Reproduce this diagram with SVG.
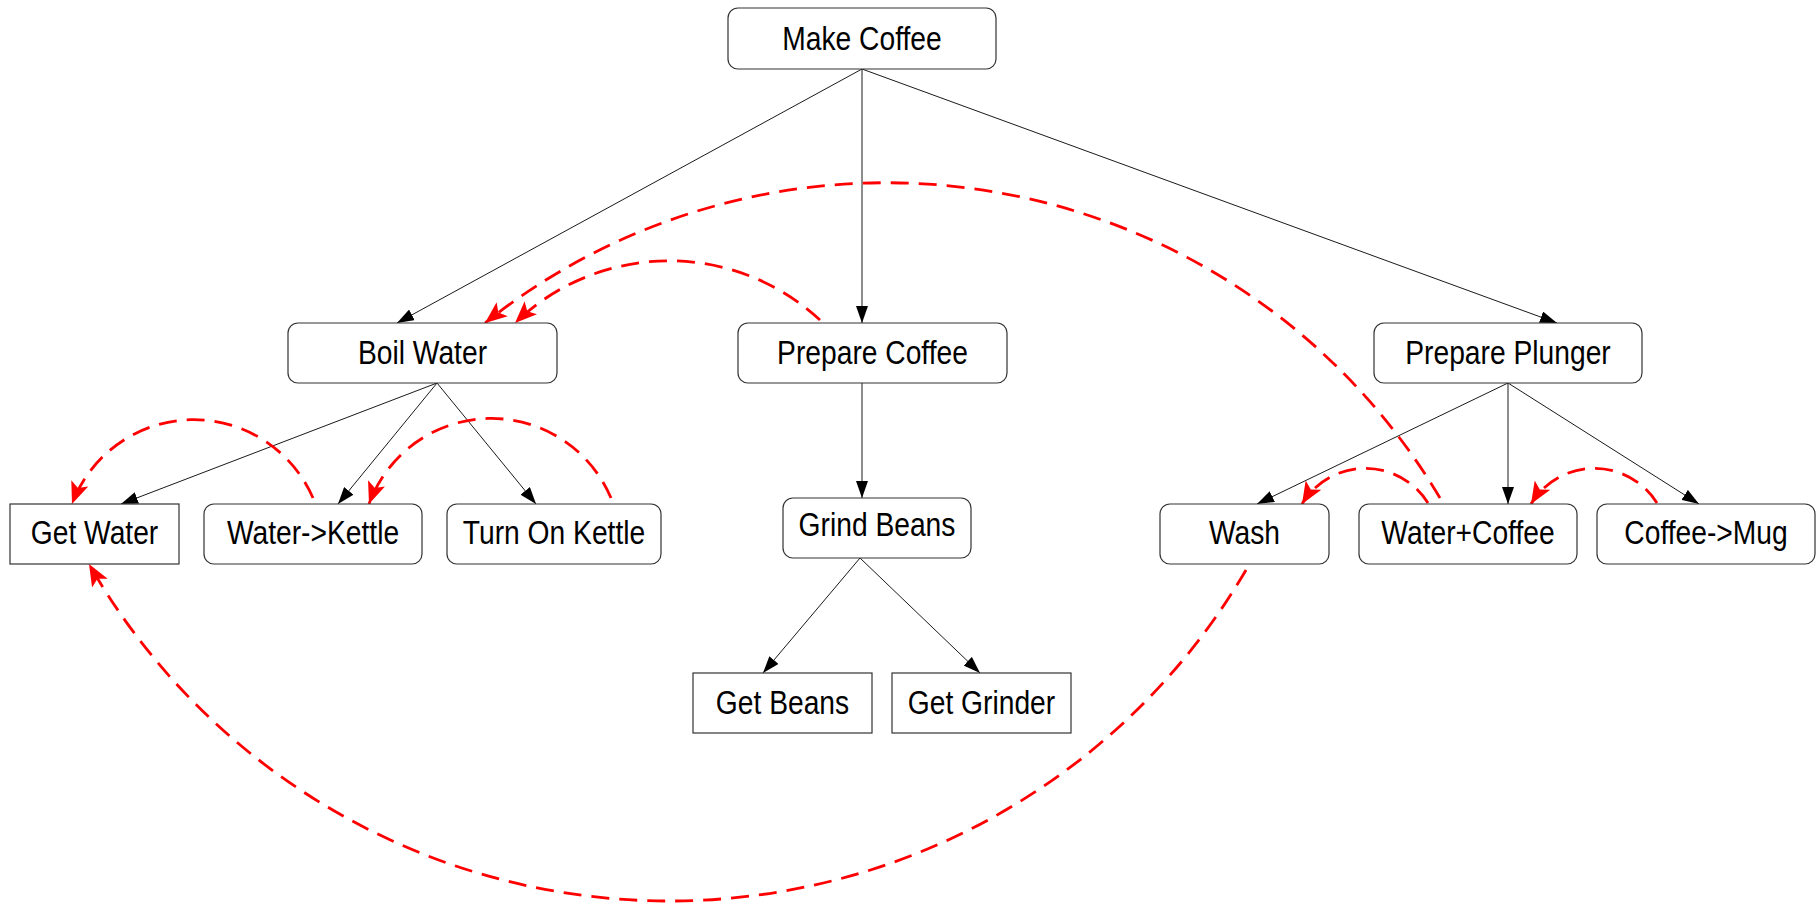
<svg xmlns="http://www.w3.org/2000/svg" width="1820" height="908" viewBox="0 0 1820 908">
  <style>
    .box { fill: #ffffff; stroke: #333333; stroke-width: 1.2; }
    .lbl { font-family: "Liberation Sans", Arial, sans-serif; font-size: 34px; fill: #000000; text-anchor: middle; }
    .edge { fill: none; stroke: #1a1a1a; stroke-width: 1; marker-end: url(#arrowBlack); }
    .dep { fill: none; stroke: #ff0000; stroke-width: 2.8; stroke-dasharray: 18 10; marker-end: url(#arrowRed); }
  </style>
  <defs>
    <marker id="arrowBlack" viewBox="0 0 17 12" refX="17" refY="6" markerWidth="17" markerHeight="12" markerUnits="userSpaceOnUse" orient="auto">
      <path d="M0,0 L17,6 L0,12 z" fill="#000000"/>
    </marker>
    <marker id="arrowRed" viewBox="0 0 22 18" refX="22" refY="9" markerWidth="22" markerHeight="18" markerUnits="userSpaceOnUse" orient="auto">
      <path d="M0,0 L22,9 L0,18 L5,9 z" fill="#ff0000"/>
    </marker>
  </defs>

  <rect width="1820" height="908" fill="#ffffff"/>

  <!-- hierarchy and dependency connectors -->
  <g id="connectors">
    <!-- tree edges -->
    <path class="edge" d="M862,69 L397,323"/>
    <path class="edge" d="M862,69 L862,323"/>
    <path class="edge" d="M862,69 L1557,323"/>
    <path class="edge" d="M437,383 L121,504"/>
    <path class="edge" d="M437,383 L338,504"/>
    <path class="edge" d="M437,383 L536,504"/>
    <path class="edge" d="M862,383 L862,498"/>
    <path class="edge" d="M860,558 L763,673"/>
    <path class="edge" d="M860,558 L980,673"/>
    <path class="edge" d="M1508,383 L1257,504"/>
    <path class="edge" d="M1508,383 L1508,504"/>
    <path class="edge" d="M1508,383 L1699,504"/>
    <!-- ordering dependencies -->
    <path class="dep" d="M313,498 A130,130 0 0 0 72,504"/>
    <path class="dep" d="M611,498 A130,130 0 0 0 369,504"/>
    <path class="dep" d="M820,320 A222,222 0 0 0 515,323"/>
    <path class="dep" d="M1440,498 A644,644 0 0 0 485,323"/>
    <path class="dep" d="M1428,503 A74,74 0 0 0 1302,504"/>
    <path class="dep" d="M1657,503 A74,74 0 0 0 1531,504"/>
    <path class="dep" d="M1246,570 A668,668 0 0 1 89,564"/>
  </g>

  <g id="node-make-coffee">
    <rect class="box" x="728" y="8" width="268" height="61" rx="10"/>
    <text class="lbl" transform="translate(862 50) scale(0.83 1)">Make Coffee</text>
  </g>
  <g id="node-boil-water">
    <rect class="box" x="288" y="323" width="269" height="60" rx="10"/>
    <text class="lbl" transform="translate(422.5 364) scale(0.83 1)">Boil Water</text>
  </g>
  <g id="node-prepare-coffee">
    <rect class="box" x="738" y="323" width="269" height="60" rx="10"/>
    <text class="lbl" transform="translate(872.5 364) scale(0.83 1)">Prepare Coffee</text>
  </g>
  <g id="node-prepare-plunger">
    <rect class="box" x="1374" y="323" width="268" height="60" rx="10"/>
    <text class="lbl" transform="translate(1508 364) scale(0.83 1)">Prepare Plunger</text>
  </g>
  <g id="node-get-water">
    <rect class="box" x="10" y="504" width="169" height="60"/>
    <text class="lbl" transform="translate(94.5 544) scale(0.83 1)">Get Water</text>
  </g>
  <g id="node-water-kettle">
    <rect class="box" x="204" y="504" width="218" height="60" rx="10"/>
    <text class="lbl" transform="translate(313 544) scale(0.83 1)">Water-&gt;Kettle</text>
  </g>
  <g id="node-turn-on-kettle">
    <rect class="box" x="447" y="504" width="214" height="60" rx="10"/>
    <text class="lbl" transform="translate(554 544) scale(0.83 1)">Turn On Kettle</text>
  </g>
  <g id="node-grind-beans">
    <rect class="box" x="783" y="498" width="188" height="60" rx="10"/>
    <text class="lbl" transform="translate(877 536) scale(0.83 1)">Grind Beans</text>
  </g>
  <g id="node-get-beans">
    <rect class="box" x="693" y="673" width="179" height="60"/>
    <text class="lbl" transform="translate(782.5 714) scale(0.83 1)">Get Beans</text>
  </g>
  <g id="node-get-grinder">
    <rect class="box" x="892" y="673" width="179" height="60"/>
    <text class="lbl" transform="translate(981.5 714) scale(0.83 1)">Get Grinder</text>
  </g>
  <g id="node-wash">
    <rect class="box" x="1160" y="504" width="169" height="60" rx="10"/>
    <text class="lbl" transform="translate(1244.5 544) scale(0.83 1)">Wash</text>
  </g>
  <g id="node-water-coffee">
    <rect class="box" x="1359" y="504" width="218" height="60" rx="10"/>
    <text class="lbl" transform="translate(1468 544) scale(0.83 1)">Water+Coffee</text>
  </g>
  <g id="node-coffee-mug">
    <rect class="box" x="1597" y="504" width="218" height="60" rx="10"/>
    <text class="lbl" transform="translate(1706 544) scale(0.83 1)">Coffee-&gt;Mug</text>
  </g>
</svg>
